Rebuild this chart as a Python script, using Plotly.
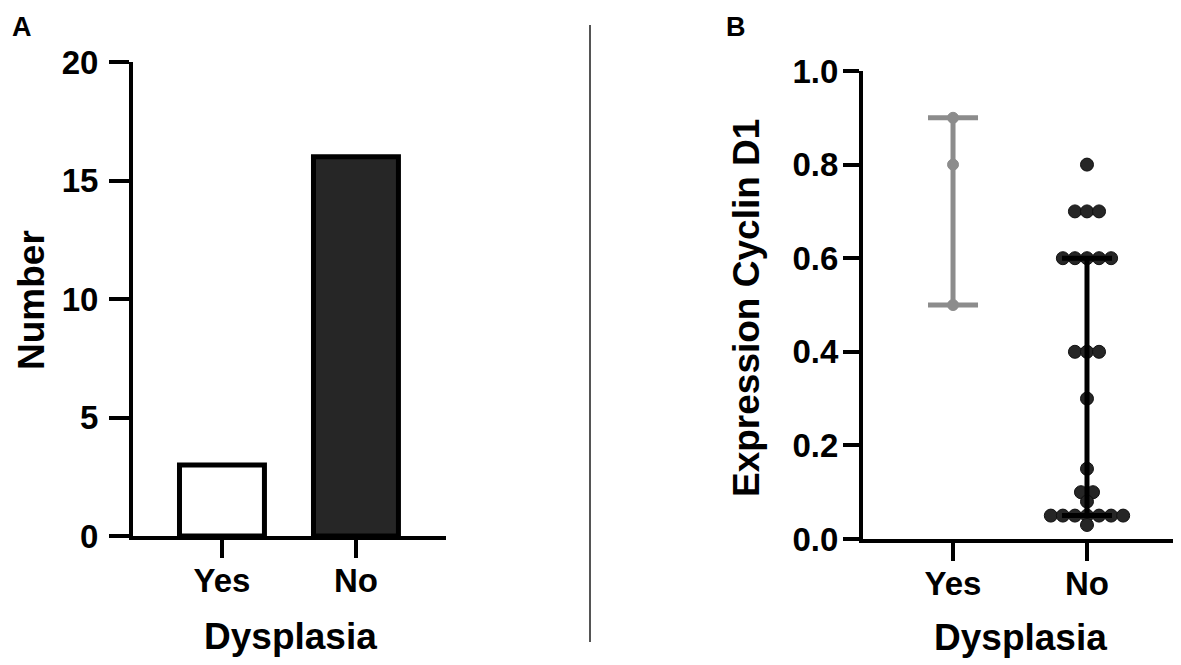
import plotly.graph_objects as go
from collections import Counter

# datos
categorias = ["Yes", "No"]
conteos = [3, 16]

cyclin_yes = [0.9, 0.8, 0.5]
cyclin_no = [0.8, 0.7, 0.7, 0.7, 0.6, 0.6, 0.6, 0.6, 0.6, 0.4, 0.4, 0.4,
             0.3, 0.15, 0.1, 0.1, 0.08, 0.05, 0.05, 0.05, 0.05, 0.05, 0.05, 0.05, 0.03]

medianas = [0.8, 0.225]
q1 = [0.5, 0.05]
q3 = [0.9, 0.6]

# la pagina tiene 8px de margen en el body
OFF = 8
W, H = 1181 - OFF, 665 - OFF
FUENTE = "Liberation Sans, Arial, sans-serif"
GRIS = "#8c8c8c"
NEGRO = "#262626"


def px_x(p):
    return (p - OFF) / W


def px_y(p):
    return 1 - (p - OFF) / H


def swarm(valores, centro, paso=0.09):
    # reparte los puntos repetidos a los lados del centro
    cuenta = Counter(valores)
    vistos = Counter()
    xs = []
    for v in valores:
        n = cuenta[v]
        i = vistos[v]
        vistos[v] += 1
        xs.append(centro + (i - (n - 1) / 2) * paso)
    return xs


fig = go.Figure()

# ---- panel A
fig.add_trace(go.Bar(
    x=[0, 1], y=conteos, width=0.634,
    marker=dict(color=["white", NEGRO], line=dict(color="black", width=5)),
    xaxis="x", yaxis="y", hoverinfo="skip"))

# ---- panel B
colores = [GRIS, "black"]
grupos = [cyclin_yes, cyclin_no]
for i, vals in enumerate(grupos):
    fig.add_trace(go.Scatter(
        x=swarm(vals, i) if i == 1 else [i] * len(vals), y=vals,
        mode="markers", cliponaxis=False,
        marker=dict(size=13 if i == 1 else 11, color=NEGRO if i == 1 else GRIS,
                    line=dict(color="#111111" if i == 1 else GRIS, width=1)),
        xaxis="x2", yaxis="y2", hoverinfo="skip"))

for i in range(2):
    fig.add_trace(go.Scatter(
        x=[i], y=[medianas[i]], mode="markers", cliponaxis=False,
        marker=dict(size=1, opacity=0),
        error_y=dict(type="data", symmetric=False,
                     array=[q3[i] - medianas[i]], arrayminus=[medianas[i] - q1[i]],
                     width=25, thickness=5, color=colores[i]),
        error_x=dict(type="data", value=0.33, width=0, thickness=3, color=colores[i]),
        xaxis="x2", yaxis="y2", hoverinfo="skip"))

eje = dict(showline=True, linewidth=4, linecolor="black", ticks="outside",
           tickwidth=4, tickcolor="black", showgrid=False, zeroline=False,
           tickfont=dict(family=FUENTE, size=33, color="black", weight="bold"),
           fixedrange=True, automargin=False)

fig.update_layout(
    width=W, height=H,
    margin=dict(l=0, r=0, t=0, b=0, pad=0, autoexpand=False),
    paper_bgcolor="white", plot_bgcolor="white",
    showlegend=False,
    xaxis=dict(eje, domain=[px_x(133), px_x(446)], range=[-0.664, 1.672],
               tickvals=[0, 1], ticktext=categorias, ticklen=18, anchor="y",
               ticklabelstandoff=-6),
    yaxis=dict(eje, domain=[px_y(536), px_y(62)], range=[0, 20],
               tickvals=[0, 5, 10, 15, 20], ticklen=20, anchor="x",
               ticklabelstandoff=4),
    xaxis2=dict(eje, domain=[px_x(863), px_x(1175)], range=[-0.672, 1.657],
                tickvals=[0, 1], ticktext=categorias, ticklen=18, anchor="y2",
                ticklabelstandoff=-6),
    yaxis2=dict(eje, domain=[px_y(539), px_y(71)], range=[0, 1],
                tickvals=[0, 0.2, 0.4, 0.6, 0.8, 1.0], tickformat=".1f",
                ticklen=16, anchor="x2", ticklabelstandoff=-2),
)

textos = [
    ("A", 22, 27, 27, 0),
    ("B", 736, 27, 27, 0),
    ("Number", 31, 300, 37, -90),
    ("Dysplasia", 290, 636, 37, 0),
    ("Expression Cyclin D1", 746, 308, 37, -90),
    ("Dysplasia", 1020, 637, 37, 0),
]
for t, x, y, s, ang in textos:
    fig.add_annotation(text=t, x=px_x(x), y=px_y(y), xref="paper", yref="paper",
                       xanchor="center", yanchor="middle", showarrow=False,
                       textangle=ang,
                       font=dict(family=FUENTE, size=s, color="black", weight="bold"))

# linea divisoria entre paneles
fig.add_shape(type="line", xref="paper", yref="paper",
              x0=px_x(590), x1=px_x(590), y0=px_y(642), y1=px_y(25),
              line=dict(color="#555555", width=2))

fig.write_html("out.html")
